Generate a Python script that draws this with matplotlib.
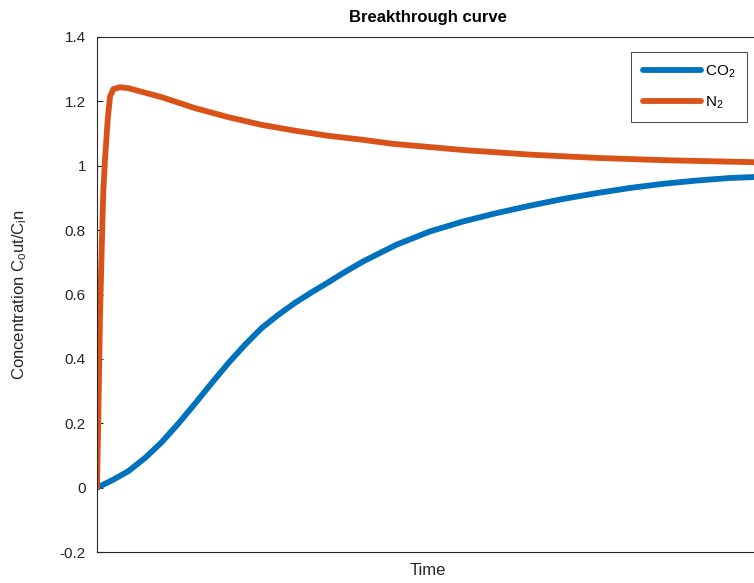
import matplotlib.pyplot as plt

plt.rcParams['font.family'] = ['Liberation Sans', 'DejaVu Sans']
plt.rcParams['mathtext.fontset'] = 'custom'
plt.rcParams['mathtext.rm'] = 'Liberation Sans'
plt.rcParams['mathtext.it'] = 'Liberation Sans'

# time in arbitrary units (the axis has no tick labels)
t_co2 = [0, 2, 22.2, 47.4, 72.6, 97.9, 123.1, 148.3, 173.6, 198.8, 224.0, 249.2, 274.4,
         299.5, 324.8, 350.0, 372.6, 402.9, 453.4, 503.8, 554.1, 604.7, 655.1, 705.4,
         755.9, 806.4, 856.7, 907.1, 957.6, 995]
c_co2 = [0, 0.002, 0.022, 0.051, 0.092, 0.141, 0.199, 0.261, 0.325, 0.387, 0.444, 0.496,
         0.537, 0.574, 0.607, 0.638, 0.667, 0.703, 0.755, 0.796, 0.827, 0.853, 0.876,
         0.897, 0.915, 0.931, 0.944, 0.954, 0.962, 0.965]

t_n2 = [0, 2, 4.5, 7.1, 9.5, 12.1, 16.2, 19.7, 24.7, 34.8, 47.4, 97.9, 148.3, 198.6,
        249.2, 299.5, 350.0, 400.5, 448.3, 559.3, 659.6, 761.0, 861.9, 995]
c_n2 = [0, 0.22, 0.53, 0.74, 0.92, 1.02, 1.143, 1.215, 1.238, 1.244, 1.241, 1.213, 1.179,
        1.151, 1.127, 1.109, 1.093, 1.081, 1.068, 1.048, 1.034, 1.024, 1.017, 1.011]

yticks = [-0.2, 0, 0.2, 0.4, 0.6, 0.8, 1, 1.2, 1.4]
ytick_labels = ['-0.2', '0', '0.2', '0.4', '0.6', '0.8', '1', '1.2', '1.4']

fig = plt.figure(figsize=(7.54, 5.83), dpi=100)
ax = fig.add_axes([97 / 754, 31 / 583, 661 / 754, 515 / 583])

ax.plot(t_co2, c_co2, color='#0072BD', lw=4.2, label='CO$_2$',
        solid_capstyle='round', solid_joinstyle='round')
ax.plot(t_n2, c_n2, color='#D95319', lw=4.2, label='N$_2$',
        solid_capstyle='round', solid_joinstyle='round')

ax.set_xlim(0, 1000)
ax.set_ylim(-0.2, 1.4)
ax.set_xticks([])
ax.set_yticks(yticks)
ax.set_yticklabels(ytick_labels)
ax.tick_params(axis='y', direction='in', length=4, labelsize=11, colors='#262626', pad=8)
for s in ax.spines.values():
    s.set_color('#262626')
    s.set_linewidth(0.8)

ax.set_title('Breakthrough curve', fontsize=12, fontweight='bold', pad=11)
ax.set_xlabel('Time', fontsize=12, labelpad=8, color='#262626')
ax.set_ylabel('Concentration C$_o$ut/C$_i$n', fontsize=12, labelpad=22, color='#262626')

leg = ax.legend(loc='upper right', bbox_to_anchor=(747 / 754, 1 - 52 / 583),
                bbox_transform=fig.transFigure, fontsize=11, handlelength=3.8,
                fancybox=False, framealpha=1, borderaxespad=0, labelspacing=0.95,
                handletextpad=0.3, borderpad=0.75)
leg.get_frame().set_edgecolor('#262626')
leg.get_frame().set_linewidth(0.6)

fig.savefig('out.png', dpi=100)
